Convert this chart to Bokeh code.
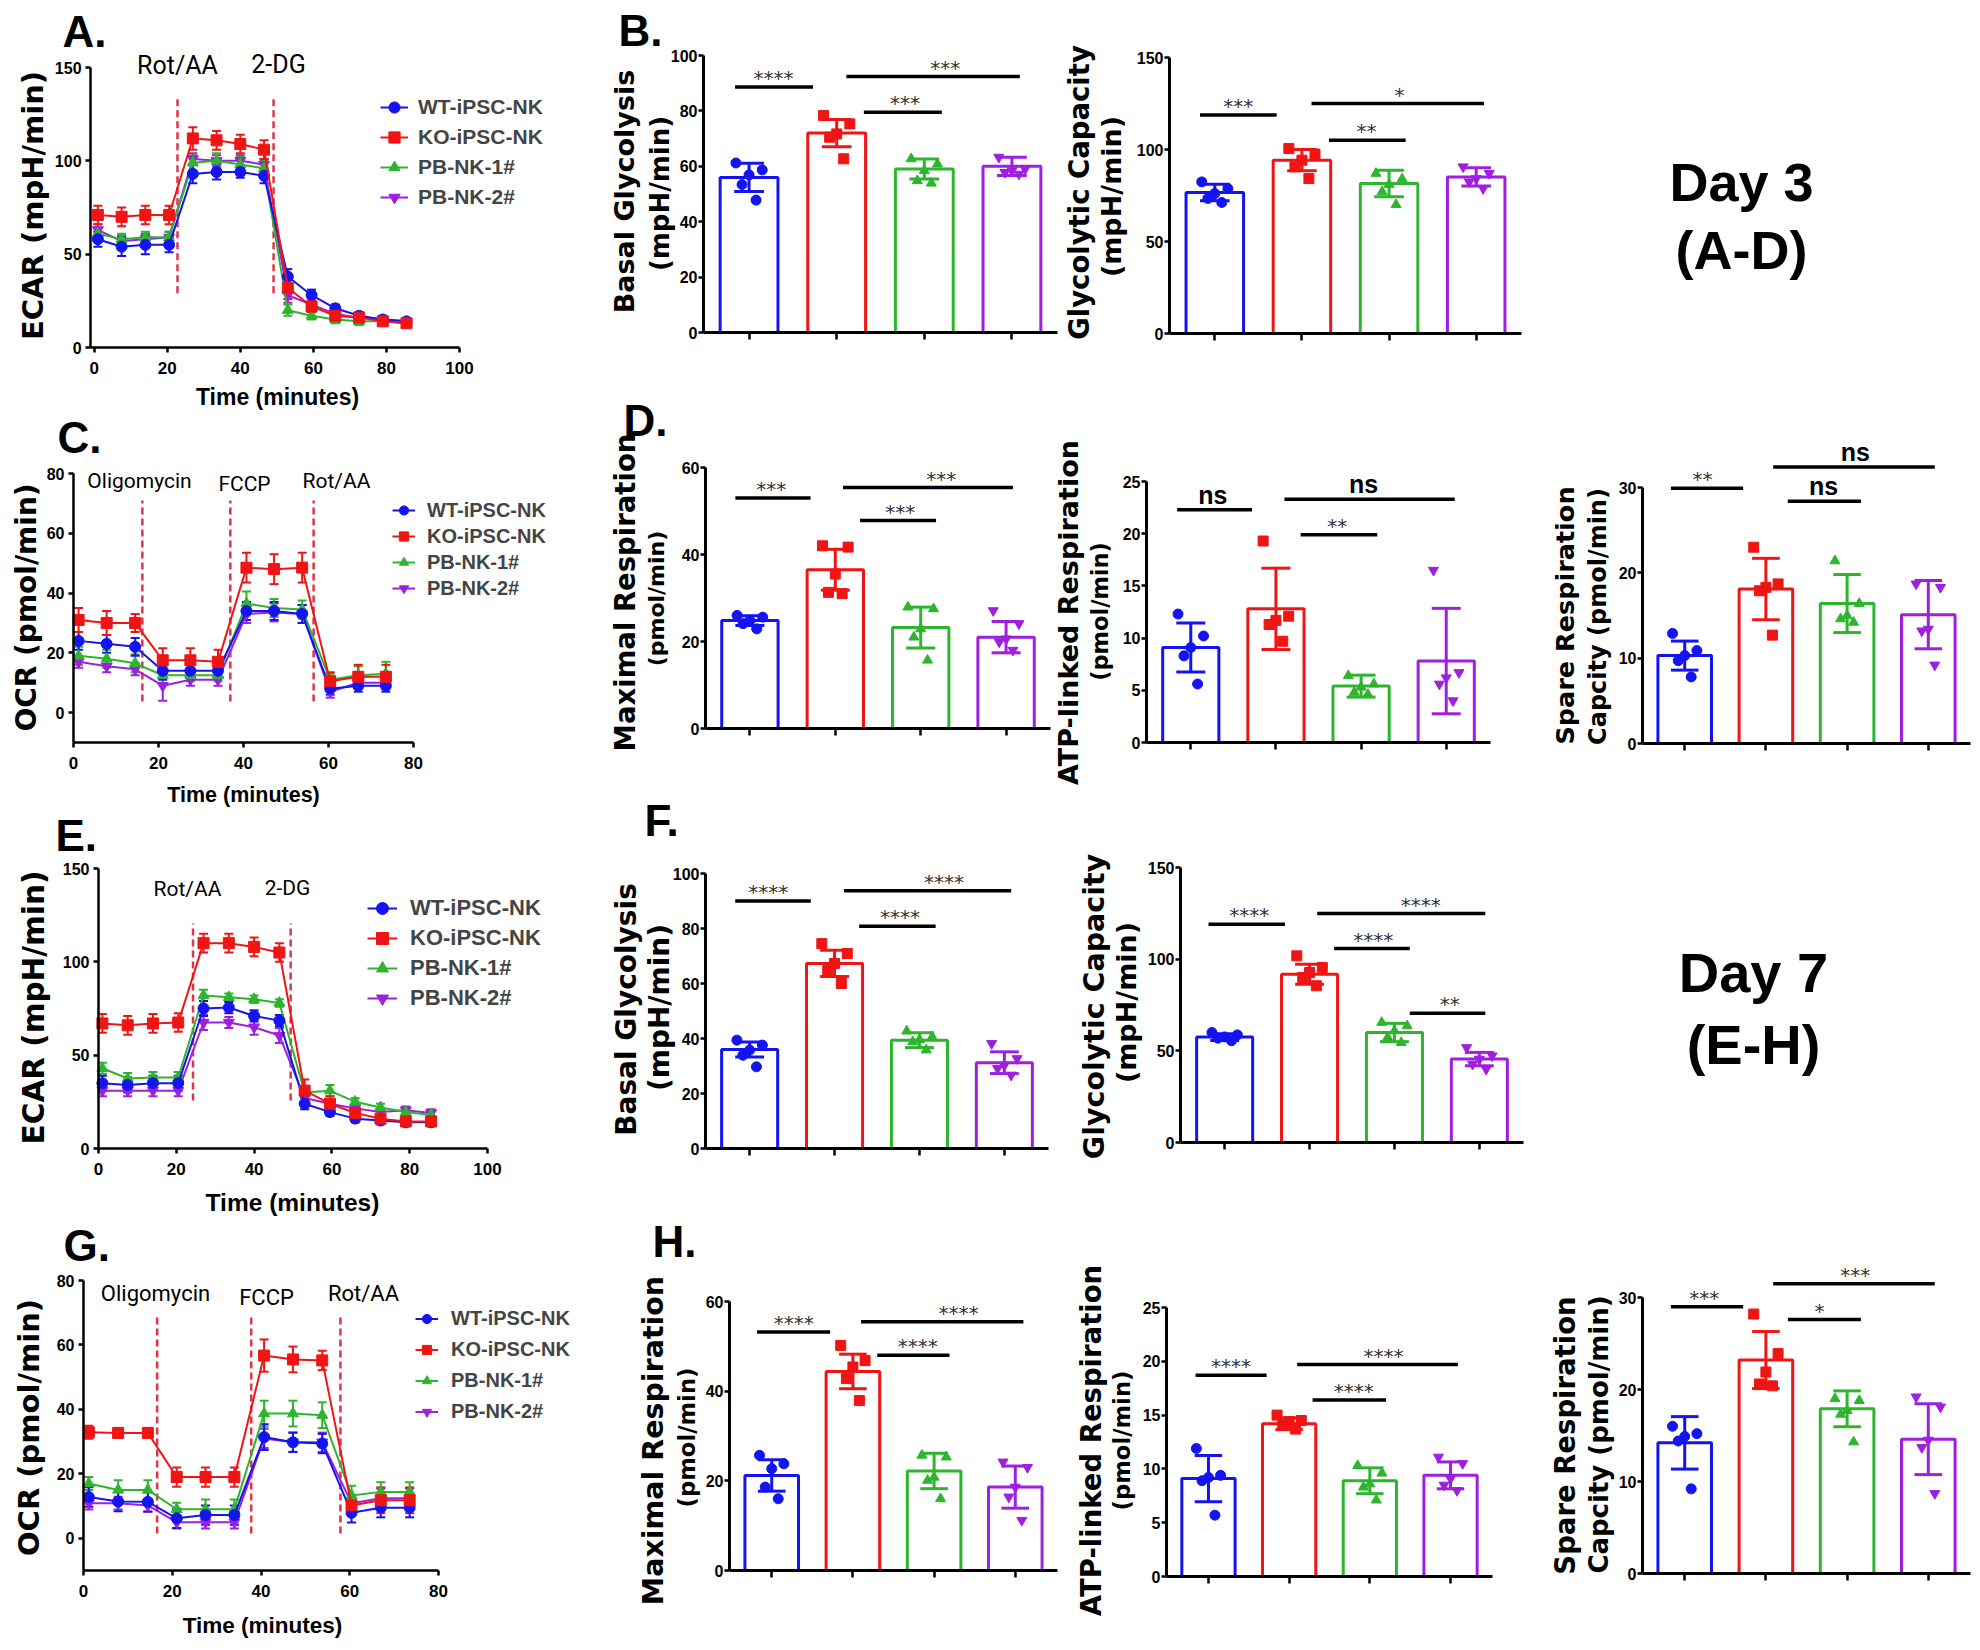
import math
from bokeh.plotting import figure
from bokeh.models import (Range1d, FixedTicker, Label, Legend, LegendItem,
                          Whisker, TeeHead, ColumnDataSource)
from bokeh.layouts import row, column
from bokeh.embed import file_html
from bokeh.resources import INLINE

# ---------------- data ----------------
GROUPS = ["WT-iPSC-NK", "KO-iPSC-NK", "PB-NK-1#", "PB-NK-2#"]
COLORS = ["#1414f0", "#f01414", "#2db52d", "#9e1fe0"]
MARKERS = ["circle", "square", "triangle", "inverted_triangle"]
DASH_COLOR = "#e0344c"

ECAR_TIME = [1, 7.5, 14, 20.5, 27, 33.5, 40, 46.5, 53, 59.5, 66, 72.5, 79, 85.5]
OCR_TIME = [1.2, 7.8, 14.5, 21, 27.5, 34, 40.7, 47.2, 53.8, 60.4, 67, 73.5]

# Panel A (Day 3 ECAR)
A_WT = [58, 54, 55, 55, 93, 94, 94, 92, 38, 28, 21, 17, 15, 14]
A_WT_SD = [4, 5, 5, 4, 5, 4, 3, 4, 4, 3, 2, 2, 2, 1]
A_KO = [71, 70, 71, 71, 112, 111, 109, 106, 32, 22, 17, 16, 14, 13]
A_KO_SD = [5, 5, 5, 5, 6, 5, 5, 5, 6, 3, 2, 2, 2, 2]
A_PB1 = [61, 58, 59, 59, 99, 100, 98, 96, 20, 17, 15, 14, 14, 13]
A_PB1_SD = [3, 3, 3, 3, 4, 4, 4, 4, 3, 2, 2, 2, 2, 1]
A_PB2 = [63, 57, 58, 59, 101, 100, 100, 98, 28, 23, 18, 16, 15, 14]
A_PB2_SD = [3, 3, 3, 3, 3, 3, 3, 3, 4, 2, 2, 2, 1, 1]
A_INJ_X = [22.8, 49.1]
A_INJ_Y = [29, 134]
A_INJ_NAMES = ["Rot/AA", "2-DG"]

# Panel C (Day 3 OCR)
C_WT = [24, 23, 22, 14, 14, 14, 34, 34, 33, 8, 9, 9]
C_WT_SD = [3, 3, 3, 3, 2, 2, 3, 3, 3, 2, 2, 2]
C_KO = [31, 30, 30, 17.5, 17.5, 17, 48.5, 48, 48.5, 10.5, 12, 12]
C_KO_SD = [4, 4, 3, 4, 4, 4, 5, 5, 5, 3, 4, 4]
C_PB1 = [19, 18, 16.5, 12.5, 12.5, 12.5, 36.5, 35, 34.5, 11, 12.5, 13]
C_PB1_SD = [3, 3, 3, 3, 2, 2, 4, 3, 3, 2, 3, 4]
C_PB2 = [17, 15.5, 14.5, 9, 11, 11, 33, 33.5, 33, 7, 10, 10]
C_PB2_SD = [2, 2, 2, 5, 2, 2, 3, 3, 3, 2, 2, 2]
C_INJ_X = [16.2, 36.9, 56.5]
C_INJ_Y = [3.7, 71]
C_INJ_NAMES = ["Oligomycin", "FCCP", "Rot/AA"]

# Panel E (Day 7 ECAR)
E_WT = [35, 34, 35, 35, 75, 75.5, 71, 68.5, 24, 19.5, 16, 15, 14, 14]
E_WT_SD = [4, 4, 4, 4, 4, 3, 3, 3, 3, 2, 2, 2, 2, 2]
E_KO = [67, 66, 67, 67.5, 110, 110, 108, 105, 31, 24, 19, 16, 14.5, 14.5]
E_KO_SD = [5, 5, 5, 5, 5, 5, 5, 5, 6, 4, 3, 2, 2, 2]
E_PB1 = [43, 37.5, 38, 38, 82, 81, 80, 78, 30, 31, 25, 22, 19.5, 18]
E_PB1_SD = [3, 3, 3, 3, 3, 2, 2, 2, 3, 3, 2, 2, 2, 2]
E_PB2 = [31, 31, 31, 31, 67.5, 67.5, 65, 60.5, 27, 24, 21.5, 19.5, 20.5, 19]
E_PB2_SD = [3, 3, 3, 3, 4, 3, 4, 4, 3, 2, 2, 2, 2, 2]
E_INJ_X = [24.3, 49.4]
E_INJ_Y = [25.7, 120.5]
E_INJ_NAMES = ["Rot/AA", "2-DG"]

# Panel G (Day 7 OCR)
G_WT = [12.8, 11.4, 11.3, 6.2, 7.2, 7.2, 31.4, 29.8, 29.4, 7.9, 9.5, 9.5]
G_WT_SD = [3, 3, 3, 3, 3, 3, 4, 3, 3, 3, 3, 3]
G_KO = [32.9, 32.7, 32.7, 19, 19, 19, 56.7, 55.5, 55.2, 10.2, 11.8, 11.8]
G_KO_SD = [2, 1.5, 1.5, 3, 3, 3, 5, 4, 3, 3, 4, 4]
G_PB1 = [17, 15, 15, 9, 9, 9, 38.7, 38.7, 38.2, 13.3, 14.4, 14.4]
G_PB1_SD = [2, 3, 3, 2, 3, 3, 4, 4, 4, 3, 3, 3]
G_PB2 = [10.9, 10.9, 10.2, 5, 5, 5, 31, 29.8, 29.8, 10.9, 12.4, 12.4]
G_PB2_SD = [2, 2, 2, 2, 2, 2, 3, 3, 3, 2, 3, 3]
G_INJ_X = [16.6, 37.8, 57.9]
G_INJ_Y = [1.5, 68.5]
G_INJ_NAMES = ["Oligomycin", "FCCP", "Rot/AA"]

# Bar charts: mean, SD, individual points (WT, KO, PB-NK-1#, PB-NK-2#)
# significance: (x1, x2, y, label, label_x)
B1_MEAN = [56, 72, 59, 60]
B1_SD = [5.1, 4.9, 3.6, 3.3]
B1_PTS = [[61.2, 58.7, 56.9, 53.4, 47.8], [78.3, 75.3, 71.7, 70.5, 62.7],
          [62.7, 60.8, 58.4, 54.8, 53.9], [63.3, 59.0, 58.4, 57.8, 57.2]]
B1_SIG = [(0.84, 1.73, 88.6, "****", 1.28), (2.11, 4.09, 92.4, "***", 3.24), (2.31, 3.20, 79.5, "***", 2.78)]

B2_MEAN = [76.6, 94.2, 81.5, 85.1]
B2_SD = [4.5, 5.8, 7.2, 5.0]
B2_PTS = [[82.4, 78.8, 76.1, 73.4, 71.2], [100.5, 97.5, 94.2, 90.6, 84.2],
          [87.0, 84.0, 81.0, 77.0, 70.0], [90.6, 87.0, 84.2, 82.4, 78.8]]
B2_SIG = [(0.83, 1.71, 118.7, "***", 1.27), (2.11, 4.09, 125.0, "*", 3.12), (2.31, 3.19, 105.0, "**", 2.74)]

D1_MEAN = [24.8, 36.5, 23.2, 21.0]
D1_SD = [1.1, 4.7, 4.7, 3.6]
D1_PTS = [[26.0, 25.6, 24.8, 24.1, 22.9], [42.0, 41.7, 35.5, 31.3, 31.0],
          [27.9, 27.5, 22.9, 21.0, 15.7], [27.1, 24.1, 20.6, 19.9, 18.0]]
D1_SIG = [(0.83, 1.71, 53.0, "***", 1.25), (2.09, 4.08, 55.4, "***", 3.24), (2.29, 3.18, 47.8, "***", 2.76)]

D2_MEAN = [9.1, 12.8, 5.4, 7.8]
D2_SD = [2.35, 3.9, 1.05, 5.05]
D2_PTS = [[12.3, 10.2, 9.1, 8.3, 5.6], [19.3, 12.1, 11.7, 11.3, 9.7],
          [6.4, 5.6, 5.3, 4.8, 4.6], [16.5, 6.7, 6.2, 5.6, 4.0]]
D2_SIG = [(0.84, 1.72, 22.3, "ns", 1.26), (2.10, 4.10, 23.3, "ns", 3.03), (2.29, 3.19, 19.9, "**", 2.72)]

D3_MEAN = [10.3, 18.1, 16.4, 15.1]
D3_SD = [1.7, 3.6, 3.4, 4.0]
D3_PTS = [[12.9, 10.9, 10.3, 9.7, 7.8], [23.0, 18.7, 18.3, 17.9, 12.7],
          [21.4, 16.4, 15.0, 14.6, 14.2], [18.7, 18.3, 13.4, 13.2, 9.2]]
D3_SIG = [(0.83, 1.72, 29.9, "**", 1.22), (2.09, 4.08, 32.4, "ns", 3.10), (2.27, 3.17, 28.4, "ns", 2.71)]

F1_MEAN = [36.0, 67.3, 39.4, 31.2]
F1_SD = [2.75, 4.75, 2.7, 3.95]
F1_PTS = [[39.4, 37.6, 35.8, 33.9, 29.7], [74.5, 70.9, 67.3, 64.8, 60.0],
          [42.7, 40.6, 39.6, 38.8, 35.8], [38.2, 32.7, 30.3, 29.1, 26.7]]
F1_SIG = [(0.83, 1.72, 90.0, "****", 1.22), (2.11, 4.08, 93.7, "****", 3.29), (2.29, 3.19, 80.8, "****", 2.77)]

F2_MEAN = [57.5, 91.8, 60.0, 45.5]
F2_SD = [1.8, 5.45, 5.0, 3.65]
F2_PTS = [[60.0, 58.7, 57.6, 56.9, 55.5], [101.8, 95.5, 92.7, 90.0, 85.5],
          [65.5, 63.6, 60.9, 57.3, 54.5], [51.8, 47.3, 45.5, 42.7, 40.0]]
F2_SIG = [(0.81, 1.71, 119.0, "****", 1.29), (2.09, 4.07, 124.9, "****", 3.31),
          (2.29, 3.18, 105.8, "****", 2.75), (3.18, 4.07, 70.5, "**", 3.65)]

H1_MEAN = [21.2, 44.4, 22.2, 18.6]
H1_SD = [3.5, 3.85, 3.95, 4.7]
H1_PTS = [[25.7, 23.8, 22.7, 18.6, 16.0], [50.2, 46.8, 45.4, 42.8, 37.9],
          [25.7, 25.3, 20.8, 20.1, 16.0], [24.2, 23.0, 18.6, 16.4, 11.2]]
H1_SIG = [(0.82, 1.72, 53.2, "****", 1.27), (2.10, 4.10, 55.5, "****", 3.30), (2.30, 3.19, 48.0, "****", 2.80)]

H2_MEAN = [9.1, 14.2, 8.9, 9.4]
H2_SD = [2.15, 0.55, 1.2, 1.25]
H2_PTS = [[11.9, 9.4, 9.2, 8.9, 5.7], [15.0, 14.5, 14.4, 14.1, 13.7],
          [10.3, 9.6, 8.6, 8.3, 7.1], [11.1, 10.5, 9.1, 8.5, 8.0]]
H2_SIG = [(0.84, 1.72, 18.7, "****", 1.28), (2.10, 4.09, 19.7, "****", 3.17), (2.29, 3.20, 16.4, "****", 2.80)]

H3_MEAN = [14.2, 23.2, 17.9, 14.6]
H3_SD = [2.85, 3.1, 1.95, 3.85]
H3_PTS = [[16.0, 15.2, 14.9, 14.4, 9.2], [28.2, 23.9, 21.9, 20.6, 20.4],
          [19.0, 18.8, 17.7, 17.3, 14.3], [19.2, 18.1, 14.5, 13.7, 8.7]]
H3_SIG = [(0.83, 1.72, 29.0, "***", 1.24), (2.09, 4.08, 31.5, "***", 3.10), (2.27, 3.17, 27.6, "*", 2.66)]

# ---------------- styling helpers ----------------
SANS = "Liberation Sans"
WIDE = "DejaVu Sans"
INJ = "Roboto"
VERT = math.pi / 2
JITTER = [-0.15, 0.15, 0.0, -0.08, 0.08]
LETTER_SIZE = 44


def span(pa, va, pb, vb, e1, e2):
    k = (vb - va) / (pb - pa)
    return (va + (e1 - pa) * k, va + (e2 - pa) * k)


def new_fig(canvas, xmap, ymap, y_axis_at, x_axis_at, xbounds, ybounds):
    x0, y0, x1, y1 = canvas
    xr = span(*xmap, x0, x1)
    yr = span(*ymap, y1, y0)
    p = figure(width=x1 - x0, height=y1 - y0, title=None,
               x_range=Range1d(*xr), y_range=Range1d(*yr),
               min_border=0, min_border_left=0, min_border_right=0,
               min_border_top=0, min_border_bottom=0,
               toolbar_location=None, output_backend="svg")
    p.outline_line_color = None
    p.xgrid.visible = False
    p.ygrid.visible = False
    p.border_fill_color = "white"
    p.background_fill_color = "white"
    for ax in (p.xaxis[0], p.yaxis[0]):
        ax.axis_line_color = "black"
        ax.axis_line_width = 2.5
        ax.major_tick_line_color = "black"
        ax.major_tick_line_width = 2.5
        ax.minor_tick_line_color = None
        ax.major_tick_in = 0
        ax.major_tick_out = 5
        ax.major_label_text_font = SANS
        ax.major_label_text_font_style = "bold"
        ax.major_label_text_font_size = "16px"
        ax.major_label_text_color = "black"
    p.yaxis.fixed_location = y_axis_at
    p.xaxis.fixed_location = x_axis_at
    p.xaxis.bounds = xbounds
    p.yaxis.bounds = ybounds
    return p


def add_text(p, canvas, X, Y, text, size, font=SANS, style="bold", angle=0.0,
             align="center", color="black"):
    x0, y0, x1, y1 = canvas
    p.add_layout(Label(x=X - x0, y=y1 - Y, x_units="screen", y_units="screen", text=text,
                       text_font=font, text_font_size=f"{size}px", text_font_style=style,
                       angle=angle, text_align=align, text_baseline="middle",
                       text_color=color))


def add_data_text(p, x, y, text, size, font, style, color="black"):
    p.add_layout(Label(x=x, y=y, text=text, text_font=font, text_font_size=f"{size}px",
                       text_font_style=style, text_align="center", text_baseline="middle",
                       text_color=color))


def line_panel(canvas, xmap, ymap, axes_at, bounds, xticks, yticks, time, series,
               inj_x, inj_y, inj_names, inj_pos, inj_size, ytitle, xtitle, letter, legend):
    p = new_fig(canvas, xmap, ymap, axes_at[0], axes_at[1], bounds[0], bounds[1])
    p.xaxis.ticker = FixedTicker(ticks=xticks)
    p.yaxis.ticker = FixedTicker(ticks=yticks)
    p.xaxis.major_label_standoff = 9
    p.yaxis.major_label_standoff = 4
    p.xaxis.major_label_text_font_size = "17px"
    n = len(inj_x)
    p.segment(x0=inj_x, y0=[inj_y[0]] * n, x1=inj_x, y1=[inj_y[1]] * n,
              line_color=DASH_COLOR, line_width=2.5, line_dash="7 4")
    rends = [None] * 4
    for i in (3, 2, 0, 1):
        vals, sd = series[i]
        src = ColumnDataSource(dict(t=time, v=vals,
                                    lo=[a - e for a, e in zip(vals, sd)],
                                    hi=[a + e for a, e in zip(vals, sd)]))
        p.add_layout(Whisker(source=src, base="t", lower="lo", upper="hi",
                             line_color=COLORS[i], line_width=2,
                             lower_head=TeeHead(size=9, line_color=COLORS[i], line_width=2),
                             upper_head=TeeHead(size=9, line_color=COLORS[i], line_width=2)))
        ln = p.line("t", "v", source=src, line_color=COLORS[i], line_width=2)
        sc = p.scatter("t", "v", source=src, marker=MARKERS[i], size=11,
                       fill_color=COLORS[i], line_color=COLORS[i])
        rends[i] = [ln, sc]
    for name, (X, Y) in zip(inj_names, inj_pos):
        add_text(p, canvas, X, Y, name, inj_size, font=INJ, style="normal")
    t, X, Y, s = ytitle
    add_text(p, canvas, X, Y, t, s, font=WIDE, angle=VERT)
    t, X, Y, s = xtitle
    add_text(p, canvas, X, Y, t, s)
    t, X, Y = letter
    add_text(p, canvas, X, Y, t, LETTER_SIZE, align="left")
    gl, top, ih, gw, so, fs = legend
    x0, y0, x1, y1 = canvas
    leg = Legend(items=[LegendItem(label=GROUPS[i], renderers=rends[i]) for i in range(4)],
                 location=(gl - x0, y1 - (top + 4 * ih)), padding=0, margin=0, spacing=0,
                 glyph_width=gw, glyph_height=ih, label_height=ih, label_standoff=so,
                 label_text_font=SANS, label_text_font_size=f"{fs}px",
                 label_text_font_style="bold", border_line_color=None,
                 background_fill_alpha=0)
    p.add_layout(leg)
    return p


def bar_panel(canvas, xpx, ymap, ybound, yticks, means, sds, pts, sig, titles,
              letter=None, extras=()):
    xmap = (xpx[0], 0.48, xpx[1], 4.52)
    p = new_fig(canvas, xmap, ymap, 0.48, 0, (0.48, 4.52), (0, ybound))
    ppu = abs((ymap[2] - ymap[0]) / (ymap[3] - ymap[1]))
    xs = [1, 2, 3, 4]
    p.yaxis.ticker = FixedTicker(ticks=yticks)
    p.yaxis.major_label_standoff = 1
    p.yaxis.axis_line_width = 3
    p.xaxis.ticker = FixedTicker(ticks=xs)
    p.xaxis.major_label_overrides = {1: " ", 2: " ", 3: " ", 4: " "}
    p.xaxis.major_tick_out = 7
    p.xaxis.axis_line_width = 3
    p.vbar(x=xs, top=means, width=0.66, bottom=0, fill_color="white",
           line_color=COLORS, line_width=3)
    lo = [m - s for m, s in zip(means, sds)]
    hi = [m + s for m, s in zip(means, sds)]
    c0 = [x - 0.17 for x in xs]
    c1 = [x + 0.17 for x in xs]
    p.segment(x0=xs, y0=lo, x1=xs, y1=hi, line_color=COLORS, line_width=3)
    p.segment(x0=c0, y0=hi, x1=c1, y1=hi, line_color=COLORS, line_width=3)
    p.segment(x0=c0, y0=lo, x1=c1, y1=lo, line_color=COLORS, line_width=3)
    for i in range(4):
        p.scatter(x=[xs[i] + o for o in JITTER[:len(pts[i])]], y=pts[i], marker=MARKERS[i],
                  size=10, fill_color=COLORS[i], line_color=COLORS[i])
    for x1, x2, y, lab, tx in sig:
        p.segment(x0=[x1], y0=[y], x1=[x2], y1=[y], line_color="black", line_width=3.5)
        if lab == "ns":
            add_data_text(p, tx, y + 15 / ppu, lab, 25, SANS, "bold")
        else:
            add_data_text(p, tx, y + 9 / ppu, lab, 20, WIDE, "normal", color="#333333")
    for t, X, Y, s in titles:
        add_text(p, canvas, X, Y, t, s, font=WIDE, angle=VERT)
    if letter:
        t, X, Y = letter
        add_text(p, canvas, X, Y, t, LETTER_SIZE, align="left")
    for t, X, Y, s in extras:
        add_text(p, canvas, X, Y, t, s)
    return p


# ---------------- left column: kinetic traces ----------------
pA = line_panel((0, 0, 605, 410), (93.7, 0, 459, 100), (347, 0, 67, 150), (-1, 0),
                ((-1, 100), (0, 150)), [0, 20, 40, 60, 80, 100], [0, 50, 100, 150], ECAR_TIME,
                [(A_WT, A_WT_SD), (A_KO, A_KO_SD), (A_PB1, A_PB1_SD), (A_PB2, A_PB2_SD)],
                A_INJ_X, A_INJ_Y, A_INJ_NAMES, [(177, 65), (278, 64)], 25,
                ("ECAR (mpH/min)", 32, 205, 29), ("Time (minutes)", 277, 396, 23),
                ("A.", 62, 31), (380, 92, 30, 28, 10, 21))

pC = line_panel((0, 410, 605, 808), (73, 0, 413, 80), (742, -10, 473, 80), (0, -10),
                ((0, 80), (-10, 80)), [0, 20, 40, 60, 80], [0, 20, 40, 60, 80], OCR_TIME,
                [(C_WT, C_WT_SD), (C_KO, C_KO_SD), (C_PB1, C_PB1_SD), (C_PB2, C_PB2_SD)],
                C_INJ_X, C_INJ_Y, C_INJ_NAMES, [(139, 480), (244, 483), (336, 480)], 21,
                ("OCR (pmol/min)", 26, 607, 28), ("Time (minutes)", 243, 794, 21.5),
                ("C.", 57, 437), (392, 497, 26, 23, 12, 20))

pE = line_panel((0, 808, 605, 1218), (98, 0, 487, 100), (1148, 0, 868, 150), (0, 0),
                ((0, 100), (0, 150)), [0, 20, 40, 60, 80, 100], [0, 50, 100, 150], ECAR_TIME,
                [(E_WT, E_WT_SD), (E_KO, E_KO_SD), (E_PB1, E_PB1_SD), (E_PB2, E_PB2_SD)],
                E_INJ_X, E_INJ_Y, E_INJ_NAMES, [(187, 888), (287, 887)], 21,
                ("ECAR (mpH/min)", 33, 1007, 29.5), ("Time (minutes)", 292, 1202, 24.5),
                ("E.", 55, 835), (367, 893, 30, 30, 13, 22))

pG = line_panel((0, 1218, 605, 1646), (83, 0, 438, 80), (1570, -10, 1280, 80), (0, -10),
                ((0, 80), (-10, 80)), [0, 20, 40, 60, 80], [0, 20, 40, 60, 80], OCR_TIME,
                [(G_WT, G_WT_SD), (G_KO, G_KO_SD), (G_PB1, G_PB1_SD), (G_PB2, G_PB2_SD)],
                G_INJ_X, G_INJ_Y, G_INJ_NAMES, [(155, 1293), (266, 1297), (363, 1293)], 22,
                ("OCR (pmol/min)", 28, 1427, 29), ("Time (minutes)", 262, 1625, 22.5),
                ("G.", 63, 1245), (415, 1303, 31, 23, 13, 20))

# ---------------- right column: bar charts ----------------
pB1 = bar_panel((605, 0, 1062, 370), (703, 1057), (332, 0, 55, 100), 100,
                [0, 20, 40, 60, 80, 100], B1_MEAN, B1_SD, B1_PTS, B1_SIG,
                [("Basal Glycolysis", 624, 191, 27), ("(mpH/min)", 659, 193, 26)],
                letter=("B.", 618, 30))
pB2 = bar_panel((1062, 0, 1975, 370), (1169, 1521), (333, 0, 57, 150), 150,
                [0, 50, 100, 150], B2_MEAN, B2_SD, B2_PTS, B2_SIG,
                [("Glycolytic Capacity", 1078, 192, 27.5), ("(mpH/min)", 1111, 196, 27)],
                extras=[("Day 3", 1741, 181.5, 54), ("(A-D)", 1741, 249.5, 54)])

pD1 = bar_panel((605, 370, 1053, 793), (705, 1050), (728, 0, 467, 60), 60,
                [0, 20, 40, 60], D1_MEAN, D1_SD, D1_PTS, D1_SIG,
                [("Maximal Respiration", 624.5, 592, 27.5), ("(pmol/min)", 656, 598, 22)],
                letter=("D.", 623, 420))
pD2 = bar_panel((1053, 370, 1520, 793), (1146, 1490), (742, 0, 481, 25), 25,
                [0, 5, 10, 15, 20, 25], D2_MEAN, D2_SD, D2_PTS, D2_SIG,
                [("ATP-linked Respiration", 1068, 612, 27), ("(pmol/min)", 1099, 611, 22.5)])
pD3 = bar_panel((1520, 370, 1975, 793), (1642, 1970), (743, 0, 487, 30), 30,
                [0, 10, 20, 30], D3_MEAN, D3_SD, D3_PTS, D3_SIG,
                [("Spare Respiration", 1564.5, 615, 25.5), ("Capcity (pmol/min)", 1597, 616, 24)])

pF1 = bar_panel((605, 793, 1063, 1190), (705, 1048), (1148, 0, 873, 100), 100,
                [0, 20, 40, 60, 80, 100], F1_MEAN, F1_SD, F1_PTS, F1_SIG,
                [("Basal Glycolysis", 625.5, 1009, 28), ("(mpH/min)", 659, 1007, 28)],
                letter=("F.", 644, 820))
pF2 = bar_panel((1063, 793, 1975, 1190), (1180, 1523), (1142, 0, 867, 150), 150,
                [0, 50, 100, 150], F2_MEAN, F2_SD, F2_PTS, F2_SIG,
                [("Glycolytic Capacity", 1093.5, 1006, 28.5), ("(mpH/min)", 1126, 1002, 27)],
                extras=[("Day 7", 1753, 972, 56), ("(E-H)", 1753, 1044, 56)])

pH1 = bar_panel((605, 1190, 1066, 1646), (729, 1057), (1570, 0, 1301, 60), 60,
                [0, 20, 40, 60], H1_MEAN, H1_SD, H1_PTS, H1_SIG,
                [("Maximal Respiration", 652.5, 1440, 28.5), ("(pmol/min)", 686, 1437, 22.7)],
                letter=("H.", 652, 1241))
pH2 = bar_panel((1066, 1190, 1522, 1646), (1166, 1492), (1576, 0, 1307, 25), 25,
                [0, 5, 10, 15, 20, 25], H2_MEAN, H2_SD, H2_PTS, H2_SIG,
                [("ATP-linked Respiration", 1090, 1440, 27.5), ("(pmol/min)", 1121, 1440, 22.7)])
pH3 = bar_panel((1522, 1190, 1975, 1646), (1642, 1970), (1573, 0, 1297, 30), 30,
                [0, 10, 20, 30], H3_MEAN, H3_SD, H3_PTS, H3_SIG,
                [("Spare Respiration", 1564, 1435, 27.5), ("Capcity (pmol/min)", 1598, 1434, 26)])

left = column(pA, pC, pE, pG)
right = column(row(pB1, pB2), row(pD1, pD2, pD3), row(pF1, pF2), row(pH1, pH2, pH3))
page = row(left, right)

open("out.html", "w").write(file_html(page, INLINE, "Metabolic profiling"))
